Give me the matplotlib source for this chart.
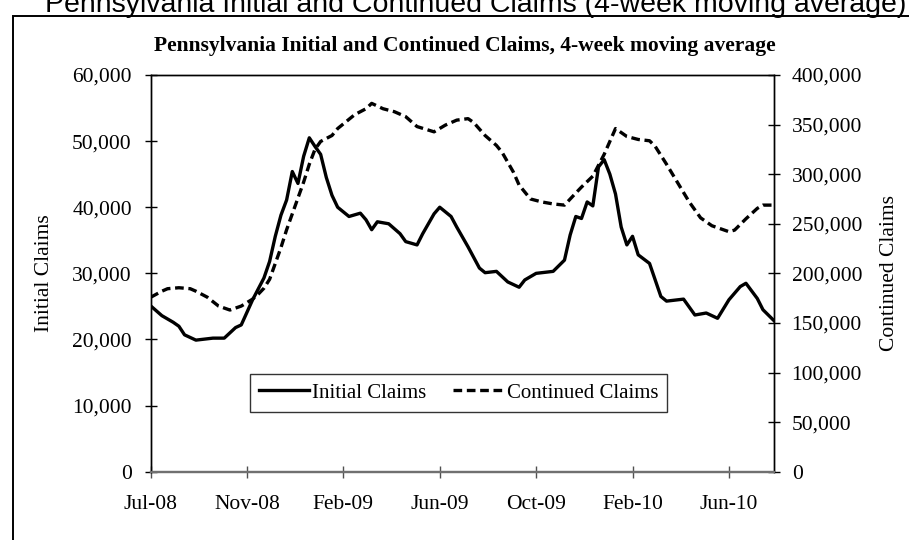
import matplotlib
matplotlib.use("Agg")
import matplotlib.pyplot as plt
from matplotlib.ticker import FuncFormatter
from matplotlib.patches import Rectangle

plt.rcParams['font.family'] = ['Liberation Serif', 'DejaVu Serif']

# weekly data, week 0 = first week of Jul-2008
weeks_initial = [0, 2, 4, 5, 6, 8, 11, 13, 15, 16, 18, 20, 21, 22, 23, 24, 25, 26, 27, 28,
                 29, 30, 31, 32, 33, 35, 37, 38, 39, 40, 42, 44, 45, 47, 48, 50, 51, 53, 54, 56,
                 58, 59, 61, 63, 65, 66, 68, 71, 73, 74, 75, 76, 77, 78, 79, 80, 81, 82, 83, 84,
                 85, 86, 88, 89, 90, 91, 94, 96, 98, 100, 102, 104, 105, 107, 108, 110]
initial_claims = [25100, 23600, 22600, 22000, 20700, 19900, 20200, 20200, 21800, 22200,
                  26000, 29300, 31800, 35600, 38800, 41100, 45400, 43600, 47700, 50500,
                  49200, 48000, 44500, 41800, 40000, 38600, 39100, 38100, 36600, 37800,
                  37500, 36000, 34800, 34300, 36000, 39000, 40000, 38600, 37000, 34000,
                  30800, 30100, 30300, 28700, 27900, 29000, 30000, 30300, 32000, 35800,
                  38600, 38300, 40800, 40200, 46100, 47200, 45000, 42000, 37000, 34300,
                  35600, 32800, 31500, 29000, 26500, 25800, 26100, 23700, 24000, 23200,
                  26000, 28000, 28500, 26200, 24500, 22800]

weeks_continued = [0, 2, 3, 5, 7, 8, 10, 12, 14, 16, 18, 19, 20, 21, 22, 23, 24, 25, 26, 27,
                   28, 29, 30, 31, 32, 33, 36, 38, 39, 41, 43, 45, 47, 50, 52, 54, 56, 57, 59, 61,
                   62, 64, 65, 67, 69, 71, 73, 75, 76, 78, 79, 80, 81, 82, 84, 86, 88, 89, 91, 93,
                   95, 97, 99, 102, 103, 105, 107, 108, 110]
continued_claims = [175800, 182000, 184500, 185500, 184500, 182000, 176000, 167000, 163000, 167000,
                    174000, 179000, 185000, 194000, 210000, 226000, 244000, 260000, 276000, 292000,
                    310000, 325000, 333000, 336000, 339000, 346000, 360000, 366000, 371400, 366000,
                    363000, 358000, 348000, 342700, 349500, 354500, 356000, 352000, 339000, 329000,
                    322000, 302000, 289000, 275000, 272000, 270000, 268800, 281000, 287000, 298000,
                    309000, 320000, 333000, 346000, 338000, 335000, 333700, 328000, 310000, 291000,
                    272000, 256000, 248000, 242000, 243600, 255000, 265500, 268800, 268800]

tick_labels = ['Jul-08', 'Nov-08', 'Feb-09', 'Jun-09', 'Oct-09', 'Feb-10', 'Jun-10']
TICK_STEP = 17  # weeks between labels
LAST_WEEK = 110
FS = 15.5

fig = plt.figure(figsize=(9.09, 5.4), dpi=100)
ax = fig.add_axes([0.1656, 0.1265, 0.6862, 0.7346])
ax2 = ax.twinx()

l1, = ax.plot(weeks_initial, initial_claims, color='black', lw=2.4,
              solid_joinstyle='round', label='Initial Claims')
l2, = ax2.plot(weeks_continued, continued_claims, color='black', lw=2.4,
               dashes=(2.6, 1.4), label='Continued Claims')

ax.set_xlim(0, LAST_WEEK)
ax.set_ylim(0, 60000)
ax2.set_ylim(0, 400000)
ax.set_xticks(range(0, LAST_WEEK, TICK_STEP))
ax.set_xticklabels(tick_labels)
ax.set_yticks(range(0, 60001, 10000))
ax2.set_yticks(range(0, 400001, 50000))
fmt = FuncFormatter(lambda v, p: f"{int(v):,}")
ax.yaxis.set_major_formatter(fmt)
ax2.yaxis.set_major_formatter(fmt)

for a in (ax, ax2):
    for s in a.spines.values():
        s.set_linewidth(1.0)
        s.set_color('black')
    a.spines['bottom'].set_color('#707070')
    a.spines['bottom'].set_linewidth(1.6)

ax.tick_params(axis='y', direction='inout', length=9, width=1, labelsize=FS, pad=9)
ax.tick_params(axis='x', direction='inout', length=9, width=1, color='#505050',
               labelsize=FS, pad=12)
ax2.tick_params(axis='y', direction='inout', length=9, width=1, labelsize=FS, pad=8)

ax.set_ylabel('Initial Claims', fontsize=FS, labelpad=13)
ax2.set_ylabel('Continued Claims', fontsize=FS, labelpad=13)

fig.text(465 / 909, 1 - 46 / 540, 'Pennsylvania Initial and Continued Claims, 4-week moving average',
         ha='center', va='center', fontsize=15.5, fontweight='bold')

# partial heading above the chart frame (cut off at the top, as in the source)
fig.text(45 / 909, 1 - 12 / 540, 'Pennsylvania Initial and Continued Claims (4-week moving average)',
         ha='left', va='baseline', fontsize=20.5, family=['Liberation Sans'])

fig.patches.append(Rectangle((13 / 909, -0.05), 1.2, 1.05 - 16 / 540, transform=fig.transFigure,
                             fill=False, edgecolor='black', linewidth=1.4))

leg = ax.legend([l1, l2], ['Initial Claims', 'Continued Claims'], loc='center',
                bbox_to_anchor=(458.5 / 909, 1 - 393 / 540), bbox_transform=fig.transFigure,
                ncol=2, fontsize=FS - 0.5, frameon=True, fancybox=False, handlelength=2.4,
                handletextpad=0.15, columnspacing=1.3, borderpad=0.45)
leg.get_frame().set_edgecolor('black')
leg.get_frame().set_linewidth(1.0)

fig.savefig('out.png', dpi=100)
